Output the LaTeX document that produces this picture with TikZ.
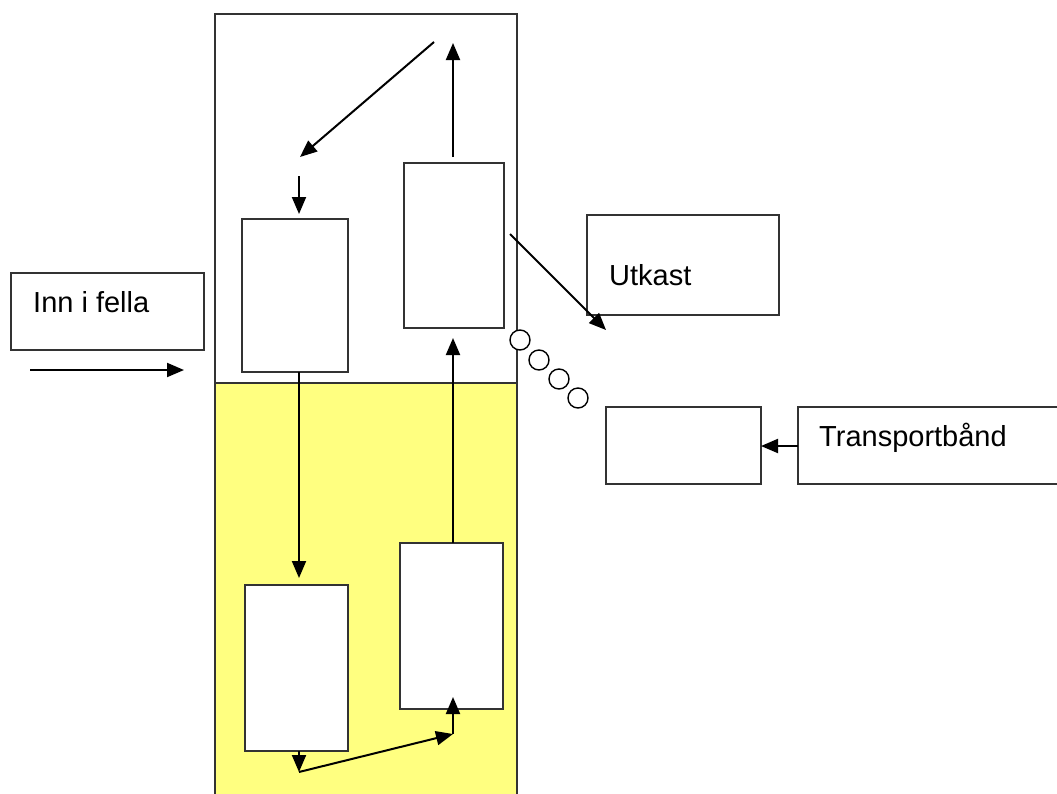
\documentclass[tikz,border=0pt]{standalone}
\usepackage{fontspec}
\setmainfont{Liberation Sans}
\usetikzlibrary{arrows.meta}
\definecolor{trapyellow}{HTML}{FFFF80}
\definecolor{boxline}{HTML}{333333}
\begin{document}
\begin{tikzpicture}[x=1pt,y=-1pt,
  box/.style={draw=boxline,line width=1.4pt,fill=white,inner sep=0pt},
  flow/.style={draw=black,line width=2pt,-{Triangle[length=17pt,width=14pt]}},
  lbl/.style={font=\fontsize{29}{33}\selectfont,anchor=base west,inner sep=0pt},
  wheel/.style={draw=black,line width=1.4pt,fill=white,circle,minimum size=20pt,inner sep=0pt}]
\useasboundingbox (0,0) rectangle (1057,793);
% trap column
\fill[trapyellow] (215,383) rectangle (517,800);
\draw[boxline,line width=1.4pt] (215,800) -- (215,14) -- (517,14) -- (517,800);
\draw[boxline,line width=1.4pt] (215,383) -- (517,383);
% boxes inside
\node[box,minimum width=106pt,minimum height=153pt] (ul) at (295,295.5) {};
\node[box,minimum width=100pt,minimum height=165pt] (ur) at (454,245.5) {};
\node[box,minimum width=103pt,minimum height=166pt] (ll) at (296.5,668) {};
\node[box,minimum width=103pt,minimum height=166pt] (lr) at (451.5,626) {};
% outside boxes
\node[box,minimum width=193pt,minimum height=77pt] (inn) at (107.5,311.5) {};
\node[lbl] (inntxt) at (33,312) {Inn i fella};
\node[box,minimum width=192pt,minimum height=100pt] (utk) at (683,265) {};
\node[lbl] (utktxt) at (609,285) {Utkast};
\node[box,minimum width=155pt,minimum height=77pt] (rec) at (683.5,445.5) {};
\node[box,minimum width=270pt,minimum height=77pt] (tb) at (933,445.5) {};
\node[lbl] (tbtxt) at (819,446) {Transportbånd};
% wheels
\node[wheel] (w1) at (520,340) {};
\node[wheel] (w2) at (539,360) {};
\node[wheel] (w3) at (559,379) {};
\node[wheel] (w4) at (578,398) {};
% coordinates
\coordinate (innA) at (30,370);
\coordinate (innB) at (184,370);
\coordinate (topR) at (453,43);
\coordinate (topRs) at (453,157);
\coordinate (diagA) at (434,42);
\coordinate (diagB) at (300,157);
\coordinate (shortA) at (299,176);
\coordinate (shortB) at (299,214);
\coordinate (ulb) at (299,372);
\coordinate (llt) at (299,578);
\coordinate (lrt) at (453,543);
\coordinate (urb) at (453,338);
\coordinate (llb) at (299,751);
\coordinate (bot) at (299,772);
\coordinate (mid) at (453,734);
\coordinate (lrb) at (453,697);
\coordinate (ejA) at (510,234);
\coordinate (ejB) at (606,330);
\coordinate (tbw) at (798,446);
\coordinate (rece) at (761,446);
% arrows
\draw[flow] (innA) -- (innB);
\draw[flow] (topRs) -- (topR);
\draw[flow] (diagA) -- (diagB);
\draw[flow] (shortA) -- (shortB);
\draw[flow] (ulb) -- (llt);
\draw[flow] (lrt) -- (urb);
\draw[flow] (llb) -- (bot);
\draw[flow] (bot) -- (mid);
\draw[flow] (mid) -- (lrb);
\draw[flow] (ejA) -- (ejB);
\draw[flow] (tbw) -- (rece);
\end{tikzpicture}
\end{document}
